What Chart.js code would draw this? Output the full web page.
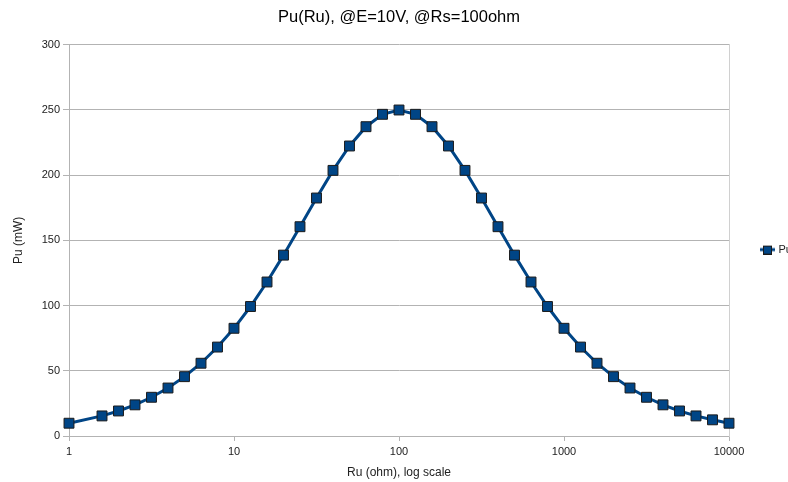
<!DOCTYPE html>
<html>
<head>
<meta charset="utf-8">
<script src="https://cdn.jsdelivr.net/npm/chart.js@4"></script>
<style>
  body { margin: 0; background: #fff; }
</style>
</head>
<body>
<canvas id="puChart" width="788" height="482"></canvas>
<script>
// Ru in ohm (log spaced) and Pu in mW
const ruValues = [1, 1.585, 1.995, 2.512, 3.162, 3.981, 5.012, 6.31, 7.943,
  10, 12.59, 15.85, 19.95, 25.12, 31.62, 39.81, 50.12, 63.1, 79.43,
  100, 125.9, 158.5, 199.5, 251.2, 316.2, 398.1, 501.2, 631, 794.3,
  1000, 1259, 1585, 1995, 2512, 3162, 3981, 5012, 6310, 7943, 10000];
const puValues = [9.8, 15.4, 19.2, 23.9, 29.7, 36.8, 45.5, 55.8, 68.2,
  82.6, 99.3, 118.1, 138.7, 160.5, 182.5, 203.7, 222.4, 237.2, 246.7,
  250, 246.7, 237.2, 222.4, 203.7, 182.5, 160.5, 138.7, 118.1, 99.3,
  82.6, 68.2, 55.8, 45.5, 36.8, 29.7, 23.9, 19.2, 15.4, 12.4, 9.8];
const xTickValues = [1, 10, 100, 1000, 10000];
const seriesName = "Pu";

const lineColor = "#004586";

// legend symbol: short line with a square on it
const legendIcon = document.createElement("canvas");
legendIcon.width = 15;
legendIcon.height = 10;
const ic = legendIcon.getContext("2d");
ic.strokeStyle = lineColor;
ic.lineWidth = 3;
ic.beginPath();
ic.moveTo(0, 5);
ic.lineTo(15, 5);
ic.stroke();
ic.fillStyle = lineColor;
ic.fillRect(3.5, 1.5, 8, 8);
ic.strokeStyle = "#1a1a1a";
ic.lineWidth = 1;
ic.strokeRect(3.5, 1.5, 8, 8);

const points = ruValues.map((r, i) => ({x: r, y: puValues[i]}));

Chart.defaults.font.family = "'Liberation Sans', Arial, sans-serif";
Chart.defaults.color = "#222";

new Chart("puChart", {
	type: "line",
	data: {
		datasets: [{
			label: seriesName,
			data: points,
			borderColor: lineColor,
			borderWidth: 3,
			backgroundColor: lineColor,
			pointStyle: "rect",
			pointRadius: 7,
			pointBorderColor: "#1a1a1a",
			pointBorderWidth: 1,
			pointBackgroundColor: lineColor,
			tension: 0,
			clip: false
		}]
	},
	options: {
		responsive: false,
		animation: false,
		devicePixelRatio: 1,
		layout: { padding: 0 },
		plugins: {
			title: {
				display: true,
				text: "Pu(Ru), @E=10V, @Rs=100ohm",
				fullSize: false,
				color: "#000",
				font: { size: 16.5, weight: "normal" },
				padding: { top: 8, bottom: 17 }
			},
			legend: {
				position: "right",
				maxWidth: 36,
				title: {
					display: true,
					text: "",
					font: { size: 1 },
					padding: { top: 16, bottom: 0 }
				},
				labels: {
					usePointStyle: true,
					padding: 10,
					color: "#222",
					font: { size: 11 },
					generateLabels: function(chart) {
						return [{
							text: seriesName,
							pointStyle: legendIcon,
							fillStyle: lineColor,
							strokeStyle: lineColor,
							lineWidth: 0,
							datasetIndex: 0,
							hidden: false
						}];
					}
				}
			},
			tooltip: { enabled: false }
		},
		scales: {
			x: {
				type: "logarithmic",
				min: 1,
				max: 10000,
				afterBuildTicks: function(s) {
					s.ticks = xTickValues.map(v => ({value: v}));
				},
				afterFit: function(s) { s.height = 46; },
				ticks: {
					font: { size: 11 },
					color: "#222",
					maxRotation: 0,
					padding: 4,
					callback: v => String(v)
				},
				grid: {
					drawOnChartArea: false,
					tickLength: 5,
					tickColor: "#b3b3b3"
				},
				border: { color: "#b3b3b3", width: 1 },
				title: {
					display: true,
					text: "Ru (ohm), log scale",
					color: "#222",
					font: { size: 12 },
					padding: { top: 4, bottom: 2 }
				}
			},
			y: {
				min: 0,
				max: 300,
				afterFit: function(s) { s.width = 69; },
				ticks: {
					stepSize: 50,
					font: { size: 11 },
					color: "#222",
					padding: 3
				},
				grid: {
					color: "#b3b3b3",
					tickLength: 6
				},
				border: { color: "#b3b3b3", width: 1 },
				title: {
					display: true,
					text: "Pu (mW)",
					color: "#222",
					font: { size: 12 },
					padding: { top: 11, bottom: 4 }
				}
			},
			yRight: {
				position: "right",
				display: true,
				min: 0,
				max: 300,
				afterFit: function(s) { s.width = 23; },
				ticks: { display: false },
				grid: { drawOnChartArea: false, drawTicks: false },
				border: { color: "#d0d0d0", width: 1 }
			}
		}
	}
});
</script>
</body>
</html>
